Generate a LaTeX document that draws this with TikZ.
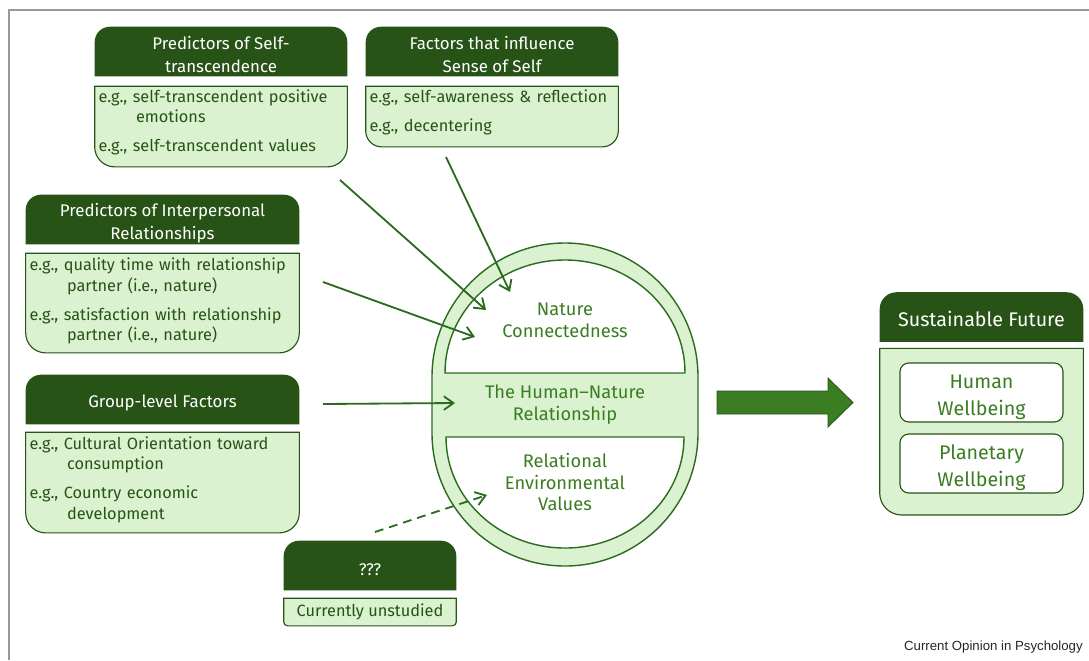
\documentclass[tikz,border=0pt]{standalone}
\usepackage{fontspec}
\setmainfont{Fira Sans}
\newfontfamily\creditfont{Liberation Sans}
\usetikzlibrary{positioning, arrows.meta, backgrounds}

\definecolor{leafdark}{HTML}{275317}
\definecolor{leafmid}{HTML}{3B7D23}
\definecolor{leafline}{HTML}{2C6A20}
\definecolor{leaflight}{HTML}{DAF2D0}

\hyphenpenalty=10000

% extra room under the example lists
\newcommand{\listgap}[1]{\par\kern#1}
% invisible strut that pushes a text block a little lower
\newcommand{\toppad}[1]{\rule{0pt}{#1}}

% dark title strip over a light panel, rounded on the outer corners only
\newcommand{\factorpanel}[4]{%
  \fill[leafdark] (#1.south west) [rounded corners=#3] -- (#1.north west)
    -- (#1.north east) [sharp corners] -- (#1.south east) -- cycle;
  \filldraw[draw=leafdark, fill=leaflight, line width=0.8pt]
    (#2.north west) [rounded corners=#4] -- (#2.south west)
    -- (#2.south east) [sharp corners] -- (#2.north east) -- cycle;
}

\begin{document}
\begin{tikzpicture}[
        x=0.025cm, y=-0.025cm,
        node distance=0.22cm,
        hdr/.style={
            text=white,
            align=center,
            inner sep=0pt,
            minimum width=#1,
            minimum height=1.225cm,
            font=\fontsize{12}{16.4}\selectfont
        },
        egbody/.style={
            text=leafdark,
            text width=#1,
            align=left,
            inner xsep=0.09cm,
            inner ysep=0pt,
            font=\fontsize{11.6}{14.6}\selectfont
        },
        tailgap/.style={execute at end node={\listgap{#1}}},
        ring/.style={draw=leafline, line width=1pt},
        ringtext/.style={
            text=leafmid,
            align=center,
            font=\fontsize{13}{15.6}\selectfont
        },
        wellbox/.style={
            draw=leafdark,
            fill=white,
            line width=0.8pt,
            rounded corners=0.22cm,
            inner ysep=0pt,
            minimum width=4.075cm,
            minimum height=1.475cm,
            text=leafmid,
            align=center,
            font=\fontsize{14}{19}\selectfont
        },
        link/.style={draw=leafline, line width=1.3pt, -{Straight Barb[length=2.4mm, width=3.4mm]}},
        bigarrow/.style={fill=leafmid, draw=leafdark, line width=0.6pt}
    ]
    \useasboundingbox (0,0) rectangle (1089,660);
    \draw[gray!80, line width=0.9pt] (9,660) -- (9,10) -- (1089,10);

    % the human-nature relationship ring
    \filldraw[ring, fill=leaflight] (432,433) -- (432,377)
        arc[start angle=180, end angle=360, x radius=133, y radius=134]
        -- (698,433)
        arc[start angle=0, end angle=180, x radius=133, y radius=133] -- cycle;
    \filldraw[ring, fill=white] (445,373)
        arc[start angle=180, end angle=360, x radius=120, y radius=113] -- cycle;
    \filldraw[ring, fill=white] (446,437) -- (684,437)
        arc[start angle=0, end angle=180, x radius=119, y radius=111] -- cycle;

    \node[ringtext] (nc) at (565,320) {Nature\\Connectedness};
    \node[ringtext] (hnr) at (565,405) {The Human--Nature\\Relationship};
    \node[ringtext] (rev) at (565,482) {Relational\\Environmental\\Values};

    % Predictor boxes
    \node[hdr=6.3cm] (st) at (221,51.5) {\toppad{14pt}Predictors of Self-\\transcendence};
    \node[egbody=6.12cm, tailgap=6pt, minimum height=2cm, below=0.25cm of st] (stb)
        {e.g., self-transcendent positive\\\hspace*{2.3em}emotions\\[6pt]e.g., self-transcendent values};

    \node[hdr=6.3cm] (ss) at (492,51.5) {\toppad{14pt}Factors that influence\\Sense of Self};
    \node[egbody=6.12cm, tailgap=6pt, minimum height=1.5cm, below=0.25cm of ss] (ssb)
        {\mbox{e.g., self-awareness \& reflection}\\[6pt]e.g., decentering};

    \node[hdr=6.825cm] (ip) at (162.5,219.5) {\toppad{14pt}Predictors of Interpersonal\\Relationships};
    \node[egbody=6.645cm, tailgap=2.7pt, minimum height=2.475cm, below=0.225cm of ip] (ipb)
        {e.g., quality time with relationship\\\hspace*{2.3em}partner (i.e., nature)\\[6pt]e.g., satisfaction with relationship\\\hspace*{2.3em}partner (i.e., nature)};

    \node[hdr=6.825cm] (gl) at (162.5,399.5) {\toppad{14pt}Group-level Factors};
    \node[egbody=6.645cm, tailgap=4pt, minimum height=2.5cm, below=0.2cm of gl] (glb)
        {e.g., Cultural Orientation toward\\\hspace*{2.3em}consumption\\[6pt]e.g., Country economic\\\hspace*{2.3em}development};

    \node[hdr=4.3cm] (unk) at (370,565.5) {\toppad{14pt}???};
    \node[text=leafdark, inner sep=0pt, minimum width=4.3cm, minimum height=0.675cm,
        font=\fontsize{11.6}{14}\selectfont, below=0.2cm of unk] (unkb) {Currently unstudied};

    % Outcome box
    \node[hdr=5.075cm, font=\fontsize{14}{18}\selectfont] (sf) at (981.5,317) {\toppad{13pt}Sustainable Future};
    \node[minimum width=5.075cm, minimum height=4.15cm, inner sep=0pt, below=0.165cm of sf] (sfb) {};
    \node[wellbox] (hw) at (981.5,392.5) {\toppad{16pt}Human\\Wellbeing};
    \node[wellbox] (pw) at (981.5,463.5) {\toppad{16pt}Planetary\\Wellbeing};

    \node[anchor=east, inner sep=0pt, text=black!85, font=\creditfont\fontsize{9.4}{11}\selectfont] (credit)
        at (1083,647) {Current Opinion in Psychology};

    \begin{scope}[on background layer]
        \factorpanel{st}{stb}{0.38cm}{0.5cm}
        \factorpanel{ss}{ssb}{0.38cm}{0.4cm}
        \factorpanel{ip}{ipb}{0.38cm}{0.5cm}
        \factorpanel{gl}{glb}{0.38cm}{0.5cm}
        \factorpanel{unk}{unkb}{0.38cm}{0.1cm}
        \factorpanel{sf}{sfb}{0.42cm}{0.55cm}
    \end{scope}

    % Paths
    \coordinate (st-out) at (340,180);
    \coordinate (ss-out) at (446,157);
    \coordinate (ip-out) at (323,282);
    \coordinate (gl-out) at (323,404);
    \coordinate (unk-out) at (375,532);
    \coordinate (nc-st) at (486,310);
    \coordinate (nc-ss) at (510,292);
    \coordinate (nc-ip) at (475,337);
    \coordinate (hnr-gl) at (455,403);
    \coordinate (rev-unk) at (487,495);

    \path[link] (st-out) -- (nc-st);
    \path[link] (ss-out) -- (nc-ss);
    \path[link] (ip-out) -- (nc-ip);
    \path[link] (gl-out) -- (hnr-gl);
    \path[link, dash pattern=on 2.2mm off 1.5mm] (unk-out) -- (rev-unk);

    % ring leads to the outcome box
    \filldraw[bigarrow] (717,391) -- (828,391) -- (828,378) -- (853,402.5)
        -- (828,427) -- (828,414) -- (717,414) -- cycle;
\end{tikzpicture}
\end{document}
